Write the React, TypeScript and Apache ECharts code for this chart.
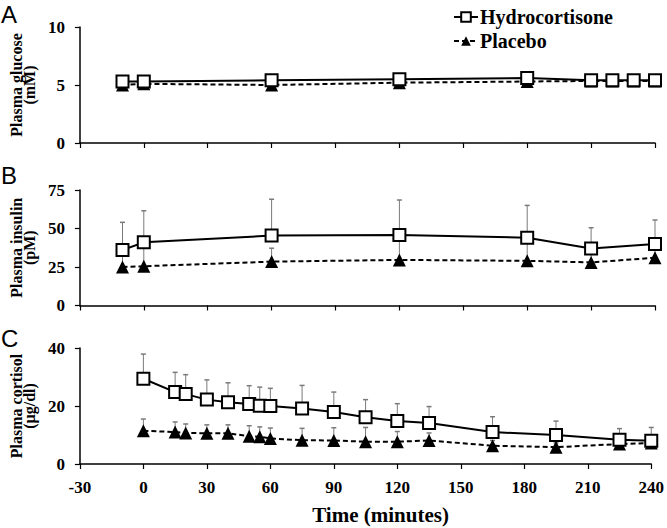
import React, { useEffect, useRef } from "react";
import * as echarts from "echarts";

// ---- Data ----
const timeTicks = { min: -30, max: 240, interval: 30 };

// Panel A: plasma glucose (mM)
const glucoseTimes = [-10, 0, 60, 120, 180, 210, 220, 230, 240];
const glucoseHydro = [5.3, 5.3, 5.4, 5.5, 5.6, 5.4, 5.4, 5.4, 5.4];
const glucosePlacebo = [5.0, 5.1, 5.0, 5.2, 5.3, 5.35, 5.35, 5.35, 5.35];

// Panel B: plasma insulin (pM)
const insulinTimes = [-10, 0, 60, 120, 180, 210, 240];
const insulinHydro = [36, 41, 45.4, 45.8, 44, 37, 40];
const insulinHydroErr = [18, 20.5, 23.6, 22.7, 21, 13.5, 15.5];
const insulinPlacebo = [25, 25.5, 28.5, 29.6, 29, 28, 31];
const insulinPlaceboErr = [9, 12, 8.7, 14, 13, 7, 7];

// Panel C: plasma cortisol (µg/dl)
const cortisolTimes = [0, 15, 20, 30, 40, 50, 55, 60, 75, 90, 105, 120, 135, 165, 195, 225, 240];
const cortisolHydro = [29.4, 24.8, 24.1, 22.2, 21.3, 20.7, 20.1, 20.0, 19.1, 17.9, 16.1, 14.8, 14.1, 11.0, 10.0, 8.4, 8.0];
const cortisolHydroErr = [8.5, 6.8, 6.7, 6.8, 6.7, 6.3, 6.4, 6.1, 8.0, 6.9, 6.1, 6.0, 5.7, 5.3, 4.8, 3.8, 4.6];
const cortisolPlacebo = [11.5, 11.0, 10.7, 10.6, 10.6, 9.6, 9.4, 8.8, 8.2, 8.1, 7.7, 7.7, 8.1, 6.3, 5.8, 6.9, 7.2];
const cortisolPlaceboErr = [4.0, 3.5, 3.1, 2.9, 2.9, 3.6, 3.4, 3.6, 4.1, 4.4, 4.9, 3.5, 2.6, 1.8, 1.5, 1.5, 1.5];

const panelLetters = ["A", "B", "C"];
const yNames = ["Plasma glucose\n(mM)", "Plasma insulin\n(pM)", "Plasma cortisol\n(µg/dl)"];
const yRanges = [
  { min: 0, max: 10, interval: 5 },
  { min: 0, max: 75, interval: 25 },
  { min: 0, max: 40, interval: 20 },
];
const seriesNames = ["Hydrocortisone", "Placebo"];
const xTitle = "Time (minutes)";

const SERIF = "'Liberation Serif', 'Times New Roman', serif";

function pairs(xs: number[], ys: number[]) {
  return xs.map((x, i) => [x, ys[i]]);
}
function triples(xs: number[], ys: number[], es: number[]) {
  return xs.map((x, i) => [x, ys[i], es[i]]);
}

const errRender = (params: any, api: any) => {
  const x = api.value(0);
  const y = api.value(1);
  const e = api.value(2);
  const p0 = api.coord([x, y]);
  const p1 = api.coord([x, y + e]);
  const st = { stroke: "#7a7a7a", lineWidth: 1 };
  return {
    type: "group",
    children: [
      { type: "line", shape: { x1: p0[0], y1: p0[1], x2: p1[0], y2: p1[1] }, style: st },
      { type: "line", shape: { x1: p1[0] - 2.5, y1: p1[1], x2: p1[0] + 2.5, y2: p1[1] }, style: { stroke: "#7a7a7a", lineWidth: 1.5 } },
    ],
  };
};

export default function App() {
  const ref = useRef<HTMLDivElement>(null);
  useEffect(() => {
    if (!ref.current) return;
    const chart = echarts.init(ref.current, undefined, { renderer: "svg" });

    const grids = [
      { left: 77, width: 578, top: 27, height: 116 },
      { left: 77, width: 578, top: 190, height: 115.5 },
      { left: 77, width: 578, top: 348, height: 116 },
    ];

    const xAxes = grids.map((_, i) => ({
      type: "value",
      gridIndex: i,
      min: timeTicks.min,
      max: timeTicks.max,
      interval: timeTicks.interval,
      axisLine: { show: true, onZero: false, lineStyle: { color: "#000", width: 1.5 } },
      axisTick: { show: true, length: 5, lineStyle: { color: "#000", width: 1.2 } },
      splitLine: { show: false },
      axisLabel: {
        show: i === 2,
        margin: 15,
        color: "#000",
        fontFamily: SERIF,
        fontWeight: "bold",
        fontSize: 17,
      },
      name: i === 2 ? xTitle : "",
      nameLocation: "middle",
      nameGap: 40,
      nameTextStyle: {
        color: "#000",
        fontFamily: SERIF,
        fontWeight: "bold",
        fontSize: 21,
        padding: [0, 0, 0, 30],
      },
    }));

    const yAxes = grids.map((_, i) => ({
      type: "value",
      gridIndex: i,
      min: yRanges[i].min,
      max: yRanges[i].max,
      interval: yRanges[i].interval,
      axisLine: { show: true, onZero: false, lineStyle: { color: "#000", width: 1.5 } },
      axisTick: { show: true, length: 5, lineStyle: { color: "#000", width: 1.2 } },
      splitLine: { show: false },
      axisLabel: {
        margin: 15,
        color: "#000",
        fontFamily: SERIF,
        fontWeight: "bold",
        fontSize: 17,
      },
      name: yNames[i],
      nameLocation: "middle",
      nameRotate: 90,
      nameGap: 30,
      nameTextStyle: {
        color: "#000",
        fontFamily: SERIF,
        fontWeight: "bold",
        fontSize: 16,
        lineHeight: 13,
      },
    }));

    const hydroStyle = (i: number, data: number[][]) => ({
      name: seriesNames[0],
      type: "line",
      xAxisIndex: i,
      yAxisIndex: i,
      data,
      z: 4,
      symbol: "rect",
      symbolSize: 12,
      itemStyle: { color: "#fff", borderColor: "#000", borderWidth: 2 },
      lineStyle: { color: "#000", width: 2 },
    });
    const placeboStyle = (i: number, data: number[][]) => ({
      name: seriesNames[1],
      type: "line",
      xAxisIndex: i,
      yAxisIndex: i,
      data,
      z: 3,
      symbol: "triangle",
      symbolSize: 13,
      itemStyle: { color: "#000", borderColor: "#000", borderWidth: 0 },
      lineStyle: { color: "#000", width: 2, type: [5, 3] },
    });
    const errSeries = (i: number, data: number[][], name: string) => ({
      name,
      type: "custom",
      xAxisIndex: i,
      yAxisIndex: i,
      data,
      z: 1,
      encode: { x: 0, y: 1 },
      renderItem: errRender,
      clip: false,
    });

    const option: any = {
      animation: false,
      backgroundColor: "#fff",
      grid: grids,
      xAxis: xAxes,
      yAxis: yAxes,
      legend: {
        data: seriesNames,
        orient: "vertical",
        left: 448,
        top: 2,
        itemWidth: 24,
        itemHeight: 12,
        itemGap: 4,
        textStyle: {
          color: "#000",
          fontFamily: SERIF,
          fontWeight: "bold",
          fontSize: 20,
          padding: [0, 0, 0, -3],
        },
        selectedMode: false,
      },
      graphic: panelLetters.map((t, i) => ({
        type: "text",
        left: 1,
        top: [2, 163, 326][i],
        style: {
          text: t,
          fill: "#000",
          font: "24px 'Liberation Sans', Arial, sans-serif",
        },
      })),
      series: [
        errSeries(1, triples(insulinTimes, insulinPlacebo, insulinPlaceboErr), "errPlaceboB"),
        errSeries(1, triples(insulinTimes, insulinHydro, insulinHydroErr), "errHydroB"),
        errSeries(2, triples(cortisolTimes, cortisolPlacebo, cortisolPlaceboErr), "errPlaceboC"),
        errSeries(2, triples(cortisolTimes, cortisolHydro, cortisolHydroErr), "errHydroC"),
        placeboStyle(0, pairs(glucoseTimes, glucosePlacebo)),
        hydroStyle(0, pairs(glucoseTimes, glucoseHydro)),
        placeboStyle(1, pairs(insulinTimes, insulinPlacebo)),
        hydroStyle(1, pairs(insulinTimes, insulinHydro)),
        placeboStyle(2, pairs(cortisolTimes, cortisolPlacebo)),
        hydroStyle(2, pairs(cortisolTimes, cortisolHydro)),
      ],
    };
    chart.setOption(option);
    return () => chart.dispose();
  }, []);

  return (
    <div
      ref={ref}
      style={{ position: "absolute", left: 0, top: 0, width: 667, height: 528, background: "#fff" }}
    />
  );
}
